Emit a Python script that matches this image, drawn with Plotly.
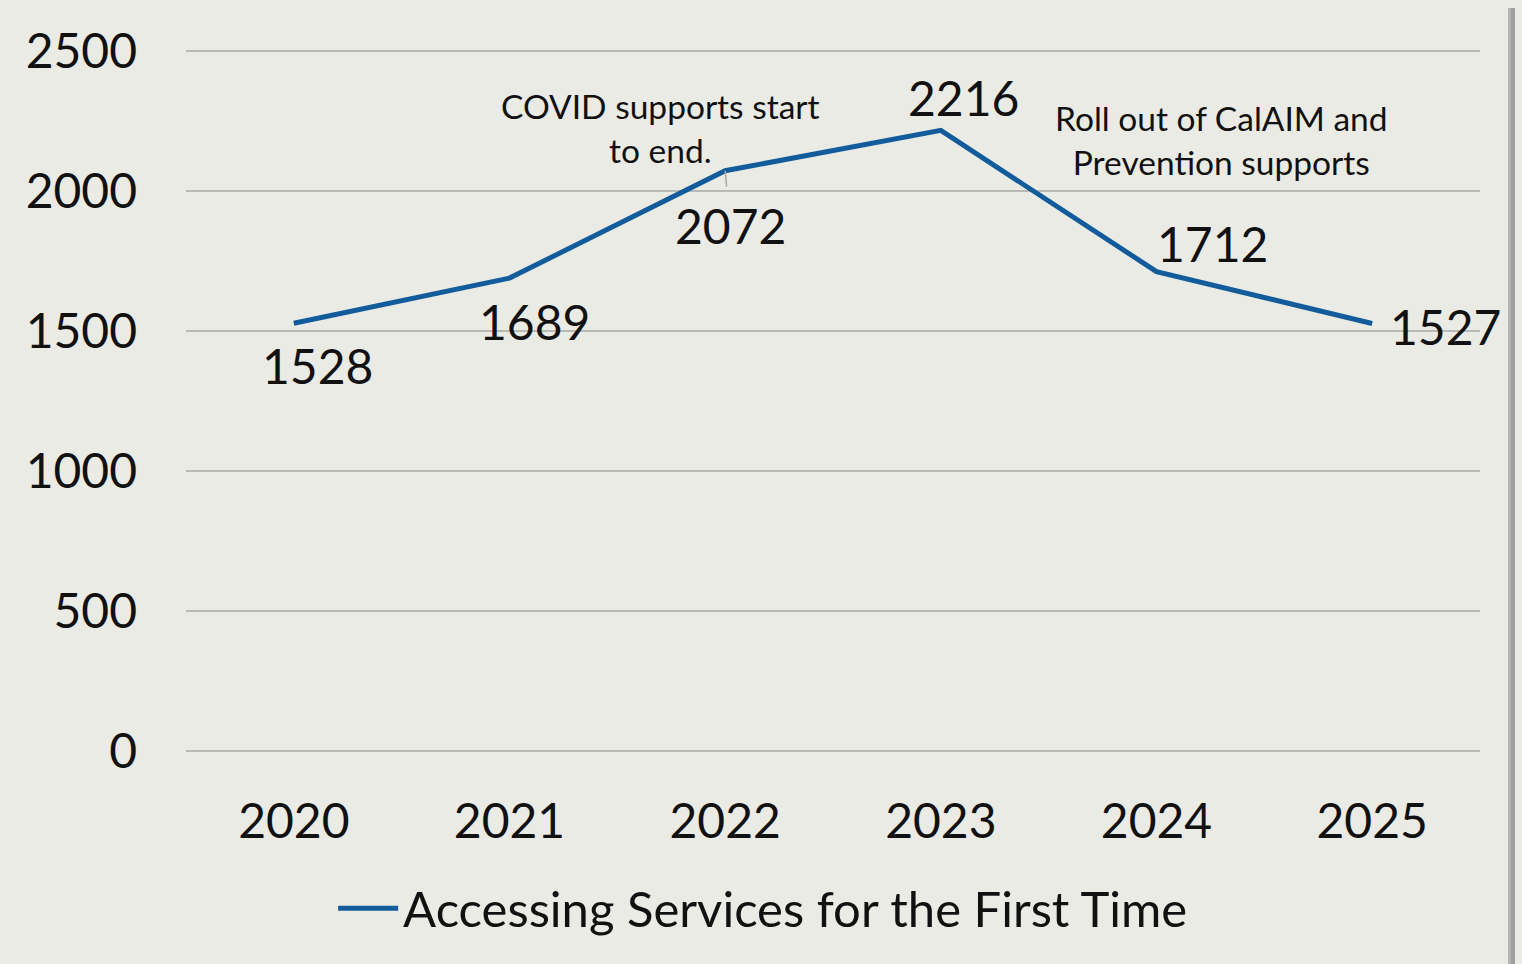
import plotly.graph_objects as go

years = ["2020", "2021", "2022", "2023", "2024", "2025"]
values = [1528, 1689, 2072, 2216, 1712, 1527]
series_name = "Accessing Services for the First Time"
label_dx = [24, 25, 5, 23, 56, 73]
label_dy = [42, 43, 55, -33, -28, 3]

notes = [
    {"text": "COVID supports start<br>to end.", "x": 1.70, "y": 2224},
    {"text": "Roll out of CalAIM and<br>Prevention supports", "x": 4.3, "y": 2180},
]

BG = "#EBEBE6"
LINE = "#135C9C"
FONT = "Lato, 'Open Sans', sans-serif"

fig = go.Figure()
fig.add_trace(go.Scatter(
    x=years, y=values, mode="lines", name=series_name,
    line=dict(color=LINE, width=5),
))

for i, (yv, dx, dy) in enumerate(zip(values, label_dx, label_dy)):
    leader = (i == 2)
    fig.add_annotation(x=i, y=yv, text=str(yv),
                       showarrow=True, ax=dx, ay=dy, arrowhead=0,
                       arrowwidth=1.5,
                       arrowcolor="#A9A9A6" if leader else "rgba(0,0,0,0)",
                       startstandoff=9 if leader else 0,
                       font=dict(size=48, color="#111111", family=FONT))

for n in notes:
    fig.add_annotation(x=n["x"], y=n["y"], text=n["text"], showarrow=False,
                       xref="x", yref="y",
                       font=dict(size=33.5, color="#111111", family=FONT))

T, B = 48, 212
PH = 964 - T - B
# right-hand shadow edge
fig.add_shape(type="rect", xref="paper", yref="paper",
              x0=(1508 - 186) / 1294, x1=(1511 - 186) / 1294,
              y0=-B / PH, y1=(964 - 8 - B) / PH,
              line=dict(width=0), fillcolor="#B4B4B2", layer="below")
fig.add_shape(type="rect", xref="paper", yref="paper",
              x0=(1511 - 186) / 1294, x1=(1515 - 186) / 1294,
              y0=-B / PH, y1=(964 - 8 - B) / PH,
              line=dict(width=0), fillcolor="#9E9E9C", layer="below")

fig.update_layout(
    width=1522, height=964,
    margin=dict(l=186, r=42, t=T, b=B),
    paper_bgcolor=BG, plot_bgcolor=BG,
    font=dict(family=FONT, color="#111111"),
    showlegend=True,
    legend=dict(orientation="h", x=0.446, y=-0.222, xanchor="center", yanchor="middle",
                font=dict(size=49, family=FONT, color="#111111"),
                bgcolor="rgba(0,0,0,0)", itemwidth=60),
    xaxis=dict(type="category", showgrid=False, zeroline=False, showline=False,
               tickfont=dict(size=48, family=FONT, color="#111111"),
               ticks="", ticklabelstandoff=37, range=[-0.5, 5.5]),
    yaxis=dict(range=[-2, 2510], tickvals=[0, 500, 1000, 1500, 2000, 2500],
               showgrid=True, gridcolor="#B9B9B6", gridwidth=2,
               zeroline=True, zerolinecolor="#B9B9B6", zerolinewidth=2,
               showline=False,
               tickfont=dict(size=48, family=FONT, color="#111111"),
               ticks="", ticklabelstandoff=48),
)

fig.write_html("out.html")
